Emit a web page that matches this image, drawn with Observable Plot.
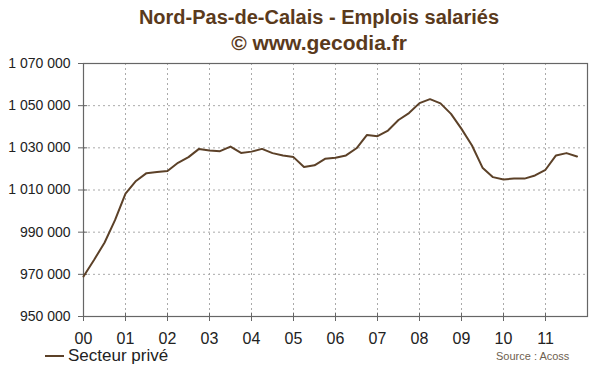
<!DOCTYPE html>
<html>
<head>
<meta charset="utf-8">
<script src="https://cdn.jsdelivr.net/npm/d3@7"></script>
<script src="https://cdn.jsdelivr.net/npm/@observablehq/plot@0.6"></script>
<style>
  html, body { margin: 0; padding: 0; background: #fff; }
  #wrap { position: relative; width: 600px; height: 372px; overflow: hidden; font-family: "Liberation Sans", Arial, sans-serif; }
  .title { position: absolute; left: 0; width: 638px; text-align: center; font-weight: bold; color: #5a3a1c; }
  #legend { position: absolute; left: 45px; top: 346px; font-size: 17px; color: #222; display: flex; align-items: center; }
  #legend .sw { display: inline-block; width: 19px; height: 2px; background: #5c4128; margin-right: 4px; }
  #source { position: absolute; left: 496px; top: 350px; font-size: 11px; color: #6e5f50; }
</style>
</head>
<body>
<div id="wrap">
  <div id="chart"></div>
  <div class="title" style="top:6px; font-size:20px">Nord-Pas-de-Calais - Emplois salariés</div>
  <div class="title" style="top:31px; font-size:21px">© www.gecodia.fr</div>
  <div id="legend"><span class="sw"></span>Secteur privé</div>
  <div id="source">Source : Acoss</div>
</div>
<script>
// Quarterly dates (decimal year) and private-sector employment values
const quarters = [
  2000.00, 2000.25, 2000.50, 2000.75,
  2001.00, 2001.25, 2001.50, 2001.75,
  2002.00, 2002.25, 2002.50, 2002.75,
  2003.00, 2003.25, 2003.50, 2003.75,
  2004.00, 2004.25, 2004.50, 2004.75,
  2005.00, 2005.25, 2005.50, 2005.75,
  2006.00, 2006.25, 2006.50, 2006.75,
  2007.00, 2007.25, 2007.50, 2007.75,
  2008.00, 2008.25, 2008.50, 2008.75,
  2009.00, 2009.25, 2009.50, 2009.75,
  2010.00, 2010.25, 2010.50, 2010.75,
  2011.00, 2011.25, 2011.50, 2011.75
];
const emplois = [
  969000, 976800, 985000, 995700,
  1008300, 1014300, 1018000, 1018500,
  1019000, 1022900, 1025600, 1029500,
  1028700, 1028400, 1030600, 1027600,
  1028200, 1029500, 1027500, 1026400,
  1025600, 1020900, 1021700, 1024800,
  1025300, 1026400, 1029800, 1036100,
  1035500, 1038200, 1043200, 1046500,
  1051200, 1053100, 1051100, 1046100,
  1039000, 1031100, 1020600, 1016100,
  1015000, 1015400, 1015400, 1016900,
  1019600, 1026400, 1027500, 1025900
];
const yearTicks = [2000, 2001, 2002, 2003, 2004, 2005, 2006, 2007, 2008, 2009, 2010, 2011];
const yearLabels = ["00", "01", "02", "03", "04", "05", "06", "07", "08", "09", "10", "11"];
const valueTicks = [950000, 970000, 990000, 1010000, 1030000, 1050000, 1070000];

const data = quarters.map((q, i) => ({date: q, value: emplois[i]}));
const fmt = d => d3.format(",")(d).replace(/,/g, " ");

const chart = Plot.plot({
  width: 600,
  height: 372,
  marginLeft: 83,
  marginRight: 13,
  marginTop: 63,
  marginBottom: 56,
  style: {fontFamily: "'Liberation Sans', Arial, sans-serif", color: "#222", background: "transparent"},
  x: {domain: [2000, 2012]},
  y: {domain: [950000, 1070000]},
  marks: [
    Plot.gridX(yearTicks.slice(1), {stroke: "#aaa", strokeOpacity: 1, strokeDasharray: "2,3"}),
    Plot.gridY(valueTicks.slice(1, -1), {stroke: "#aaa", strokeOpacity: 1, strokeDasharray: "2,3"}),
    Plot.frame({stroke: "#666", strokeWidth: 1.2}),
    Plot.axisX(yearTicks, {tickSize: 5, tickPadding: 11, fontSize: 16, stroke: "#666", tickFormat: (d, i) => yearLabels[i], label: null}),
    Plot.axisY(valueTicks, {tickSize: 5, tickPadding: 8, fontSize: 14, stroke: "#666", tickFormat: fmt, label: null}),
    Plot.ruleX(yearTicks, {y1: 950000, y2: 951600, stroke: "#666"}),
    Plot.ruleY(valueTicks, {x1: 2000, x2: 2000.1, stroke: "#666"}),
    Plot.line(data, {x: "date", y: "value", stroke: "#5c4128", strokeWidth: 2, curve: "linear"})
  ]
});
document.getElementById("chart").appendChild(chart);
</script>
</body>
</html>
